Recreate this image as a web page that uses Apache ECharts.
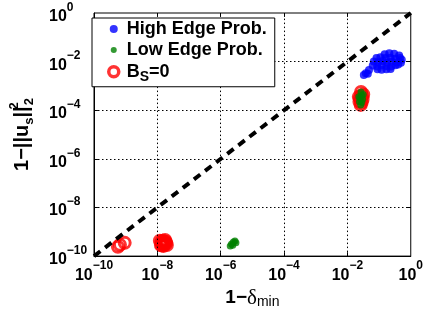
<!DOCTYPE html>
<html><head><meta charset="utf-8">
<script src="https://cdn.jsdelivr.net/npm/echarts@6/dist/echarts.min.js"></script>
<style>html,body{margin:0;padding:0;background:#fff}#c{width:426px;height:314px}</style>
</head><body><div id="c"></div>
<script>
// ---- data ----
const tickExponents = [-10, -8, -6, -4, -2, 0];
const highEdgeProb = [
  [1.5e-1,2.0e-2],[2.1e-1,2.2e-2],[3.0e-1,2.1e-2],[4.3e-1,1.8e-2],
  [8.3e-2,1.4e-2],[1.1e-1,1.5e-2],[1.6e-1,1.4e-2],[2.3e-1,1.45e-2],[3.2e-1,1.3e-2],[4.6e-1,1.4e-2],[5.2e-1,1.2e-2],
  [6.8e-2,1.0e-2],[9.3e-2,9.5e-3],[1.3e-1,1.05e-2],[1.8e-1,9.3e-3],[2.5e-1,1.0e-2],[3.5e-1,9.5e-3],[4.9e-1,8.9e-3],
  [6.3e-2,6.9e-3],[8.7e-2,6.3e-3],[1.2e-1,7.1e-3],[1.7e-1,6.6e-3],[2.4e-1,6.3e-3],[3.3e-1,7.1e-3],[4.0e-1,7.6e-3],
  [8.9e-2,4.8e-3],[1.2e-1,4.6e-3],[1.7e-1,4.8e-3],[2.3e-1,5.0e-3],
  [4.8e-2,4.5e-3],[3.8e-2,3.3e-3],[3.3e-2,2.8e-3],[4.4e-2,3.2e-3]
];
const lowEdgeProb = [
  [2.69e-2,5.62e-4],[2.82e-2,3.98e-4],[2.51e-2,3.16e-4],[3.02e-2,2.82e-4],[2.40e-2,2.24e-4],
  [2.63e-2,1.66e-4],[3.16e-2,4.47e-4],[2.29e-2,3.55e-4],[2.82e-2,2.09e-4],
  [2.0e-6,2.63e-10],[2.19e-6,3.16e-10],[2.51e-6,3.8e-10],[2.82e-6,4.17e-10],[2.4e-6,2.82e-10],[3.02e-6,3.55e-10]
];
const bsZero = [
  [5.7e-10,2.4e-10],[6.6e-10,2.9e-10],[9.3e-10,3.5e-10],
  [1.2e-8,4.27e-10],[1.48e-8,4.27e-10],[1.84e-8,3.89e-10],[2.0e-8,2.88e-10],[1.58e-8,2.63e-10],[1.29e-8,2.88e-10],
  [1.48e-8,3.39e-10],[1.7e-8,3.3e-10],[1.35e-8,3.7e-10],[1.75e-8,4.6e-10],[1.4e-8,2.7e-10],[1.9e-8,3.4e-10],
  [2.69e-2,5.62e-4],[2.82e-2,3.98e-4],[2.51e-2,3.16e-4],[3.02e-2,2.82e-4],[2.40e-2,2.24e-4],
  [2.63e-2,1.66e-4],[3.16e-2,4.47e-4],[2.29e-2,3.55e-4],[2.82e-2,2.09e-4]
];
const diagonal = [[1e-10,1e-10],[1,1]];
const legendNames = ['High Edge Prob.', 'Low Edge Prob.', 'BS0'];

// ---- chart ----
const FONT = 'Liberation Sans';
const AX_MIN = Math.pow(10, tickExponents[0]);
const AX_MAX = Math.pow(10, tickExponents[tickExponents.length - 1]);
const tickRich = {
  b: {fontFamily: FONT, fontWeight: 'bold', fontSize: 16, color: '#000', verticalAlign: 'bottom'},
  s: {fontFamily: FONT, fontWeight: 'bold', fontSize: 12, color: '#000', verticalAlign: 'bottom', padding: [0, 0, 11, 0]}
};
function tickFmt(v) {
  const e = Math.round(Math.log10(v));
  if (tickExponents.indexOf(e) < 0) return '';
  return '{b|10}{s|' + (e < 0 ? '\u2212' + (-e) : String(e)) + '}';
}
function logAxis(pos) {
  return {
    type: 'log', logBase: 10, min: AX_MIN, max: AX_MAX, interval: 2, position: pos,
    axisLine: {show: true, onZero: false, lineStyle: {color: '#000', width: 1}},
    axisTick: {show: false}, minorTick: {show: false}, splitLine: {show: false},
    axisLabel: {show: true, formatter: tickFmt, rich: tickRich, showMinLabel: true, showMaxLabel: true}
  };
}
const xMain = logAxis('bottom');
xMain.axisLabel.margin = 4;
xMain.name = '{t|1\u2212}{d|\u03b4}{sb|min}';
xMain.nameLocation = 'middle';
xMain.nameGap = 22;
xMain.nameTextStyle = {rich: {
  t: {fontFamily: FONT, fontWeight: 'bold', fontSize: 19, color: '#000', verticalAlign: 'top'},
  d: {fontFamily: 'Liberation Serif', fontSize: 21, color: '#000', verticalAlign: 'top'},
  sb: {fontFamily: FONT, fontSize: 14, color: '#000', verticalAlign: 'bottom'}
}};
const yMain = logAxis('left');
yMain.axisLabel.align = 'left';
yMain.axisLabel.margin = 45;
yMain.name = '{t|1\u2212||u}{sb|s}{t|||}{sp|2}{sb|2}';
yMain.nameLocation = 'middle';
yMain.nameRotate = 90;
yMain.nameGap = 58;
yMain.nameTextStyle = {rich: {
  t: {fontFamily: FONT, fontWeight: 'bold', fontSize: 20, color: '#000', padding: [4, 0, 4, 0]},
  sb: {fontFamily: FONT, fontWeight: 'bold', fontSize: 13, color: '#000', verticalAlign: 'bottom'},
  sp: {fontFamily: FONT, fontWeight: 'bold', fontSize: 13, color: '#000', verticalAlign: 'top', width: 1}
}};

// dotted decade grid lines and inward ticks on all four sides, placed through the log scales
const TICK_Y = 1.45, TICK_X = 1.33; // about 4px of tick length in each axis' decade units
const solid = {type: 'solid', color: '#000', width: 1};
const gridMarks = [];
tickExponents.forEach(function (e) {
  if (e <= tickExponents[0] || e >= tickExponents[tickExponents.length - 1]) return;
  const v = Math.pow(10, e);
  gridMarks.push([{coord: [v, AX_MIN]}, {coord: [v, AX_MAX]}]);
  gridMarks.push([{coord: [AX_MIN, v]}, {coord: [AX_MAX, v]}]);
  gridMarks.push([{coord: [v, AX_MIN], lineStyle: solid}, {coord: [v, AX_MIN * TICK_Y], lineStyle: solid}]);
  gridMarks.push([{coord: [v, AX_MAX], lineStyle: solid}, {coord: [v, AX_MAX / TICK_Y], lineStyle: solid}]);
  gridMarks.push([{coord: [AX_MIN, v], lineStyle: solid}, {coord: [AX_MIN * TICK_X, v], lineStyle: solid}]);
  gridMarks.push([{coord: [AX_MAX, v], lineStyle: solid}, {coord: [AX_MAX / TICK_X, v], lineStyle: solid}]);
});

const chart = echarts.init(document.getElementById('c'), null, {renderer: 'canvas'});
chart.setOption({
  animation: false,
  backgroundColor: '#fff',
  grid: {left: 88, right: 14, top: 13, bottom: 53, show: true, borderColor: '#000', borderWidth: 1},
  xAxis: xMain,
  yAxis: yMain,
  legend: {
    orient: 'vertical', left: 92, top: 18, selectedMode: false, z: 10,
    padding: [2, 8, 3, 12], itemGap: 3, itemWidth: 16, itemHeight: 16, itemTextGap: 10,
    borderColor: '#000', borderWidth: 1, backgroundColor: '#fff',
    textStyle: {fontFamily: FONT, fontWeight: 'bold', fontSize: 18, color: '#000', rich: {
      n: {fontFamily: FONT, fontWeight: 'bold', fontSize: 18, color: '#000'},
      sub: {fontFamily: FONT, fontWeight: 'bold', fontSize: 14, color: '#000', verticalAlign: 'bottom', padding: [10, 0, 0, 0]}
    }},
    formatter: function (n) { return n === 'BS0' ? '{n|B}{sub|S}{n|=0}' : n; },
    data: [
      {name: legendNames[0], icon: 'path://M0 0M16 16M4 8A4 4 0 1 0 12 8A4 4 0 1 0 4 8Z'},
      {name: legendNames[1], icon: 'path://M0 0M16 16M5 8A3 3 0 1 0 11 8A3 3 0 1 0 5 8Z'},
      {name: legendNames[2], icon: 'path://M0 0M16 16M3 8A5 5 0 1 0 13 8A5 5 0 1 0 3 8Z',
       itemStyle: {color: '#fff', borderColor: '#ff0000', borderWidth: 3.5}}
    ]
  },
  series: [
    {name: 'gridlines', type: 'line', data: diagonal, symbol: 'none', silent: true, z: 1,
     lineStyle: {opacity: 0},
     markLine: {silent: true, symbol: ['none', 'none'], label: {show: false}, animation: false,
       lineStyle: {color: '#000', width: 1, type: [1.5, 2.5]}, emphasis: {disabled: true},
       data: gridMarks}},
    {name: legendNames[2], type: 'scatter', data: bsZero, symbol: 'circle', symbolSize: 11,
     itemStyle: {color: 'rgba(255,255,255,0)', borderColor: '#ff0000', borderWidth: 3}, z: 2},
    {name: legendNames[1], type: 'scatter', data: lowEdgeProb, symbol: 'circle', symbolSize: 7,
     itemStyle: {color: '#008000'}, z: 3},
    {name: legendNames[0], type: 'scatter', data: highEdgeProb, symbol: 'circle', symbolSize: 8,
     itemStyle: {color: '#0000ff'}, z: 4},
    {name: 'diag', type: 'line', data: diagonal, symbol: 'none', silent: true,
     lineStyle: {color: '#000', width: 4, type: [8, 6]}, z: 5}
  ]
});
</script>
</body></html>
